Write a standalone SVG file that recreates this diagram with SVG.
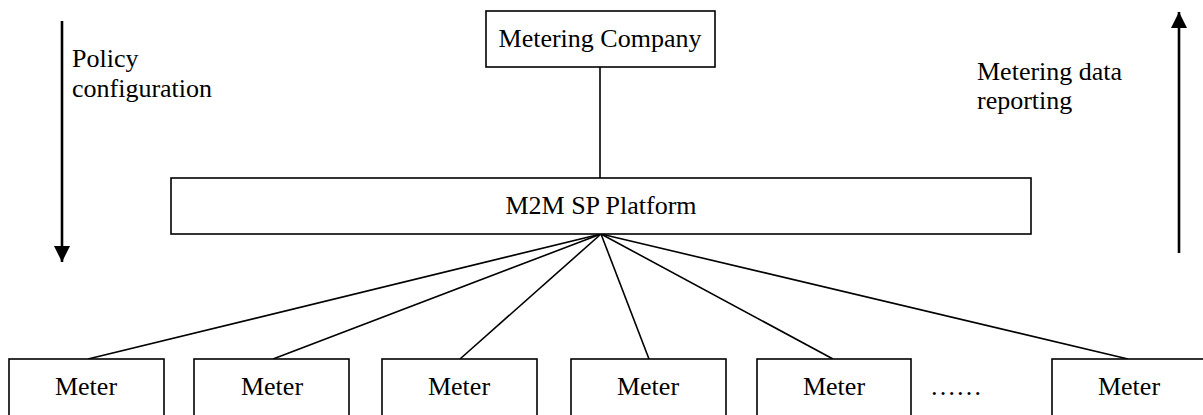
<svg xmlns="http://www.w3.org/2000/svg" width="1203" height="415" viewBox="0 0 1203 415">
<style>
  .box { fill: #fff; stroke: #000; stroke-width: 1.6; }
  .lbl { font-family: "Liberation Serif", "Times New Roman", serif; font-size: 26px; fill: #000; }
  .c { text-anchor: middle; }
  .ln { stroke: #000; stroke-width: 1.6; fill: none; }
  .arr { stroke: #000; stroke-width: 2.6; fill: none; }
</style>
<defs>
  <marker id="ah" viewBox="0 0 16 16" refX="16" refY="8" markerWidth="16" markerHeight="16" markerUnits="userSpaceOnUse" orient="auto">
    <path d="M0,0 L16,8 L0,16 Z" fill="#000"/>
  </marker>
</defs>
<rect width="1203" height="415" fill="#fff"/>
<g id="connectors">
  <line class="ln" x1="600" y1="67" x2="600" y2="178"/>
  <line class="ln" x1="601" y1="234" x2="88" y2="359"/>
  <line class="ln" x1="601" y1="234" x2="273" y2="359"/>
  <line class="ln" x1="601" y1="234" x2="460" y2="359"/>
  <line class="ln" x1="601" y1="234" x2="649" y2="359"/>
  <line class="ln" x1="601" y1="234" x2="833" y2="359"/>
  <line class="ln" x1="601" y1="234" x2="1128" y2="359"/>
</g>
<g id="arrow-policy">
  <line class="arr" x1="62" y1="21" x2="62" y2="262" marker-end="url(#ah)"/>
  <text class="lbl" x="72" y="67">Policy</text>
  <text class="lbl" x="72" y="97">configuration</text>
</g>
<g id="arrow-reporting">
  <line class="arr" x1="1179" y1="253" x2="1179" y2="12" marker-end="url(#ah)"/>
  <text class="lbl" x="977" y="80">Metering data</text>
  <text class="lbl" x="977" y="109">reporting</text>
</g>
<g id="metering-company">
  <rect class="box" x="486" y="11" width="229" height="56"/>
  <text class="lbl c" x="600" y="47">Metering Company</text>
</g>
<g id="m2m-platform">
  <rect class="box" x="171" y="178" width="860" height="56"/>
  <text class="lbl c" x="601" y="214">M2M SP Platform</text>
</g>
<g id="meter-1">
  <rect class="box" x="9" y="359" width="155" height="70"/>
  <text class="lbl c" x="86" y="395">Meter</text>
</g>
<g id="meter-2">
  <rect class="box" x="194" y="359" width="155" height="70"/>
  <text class="lbl c" x="272" y="395">Meter</text>
</g>
<g id="meter-3">
  <rect class="box" x="382" y="359" width="155" height="70"/>
  <text class="lbl c" x="459" y="395">Meter</text>
</g>
<g id="meter-4">
  <rect class="box" x="571" y="359" width="155" height="70"/>
  <text class="lbl c" x="648" y="395">Meter</text>
</g>
<g id="meter-5">
  <rect class="box" x="757" y="359" width="154" height="70"/>
  <text class="lbl c" x="834" y="395">Meter</text>
</g>
<g id="ellipsis">
  <text class="lbl" x="930" y="395">……</text>
</g>
<g id="meter-6">
  <rect class="box" x="1052" y="359" width="155" height="70"/>
  <text class="lbl c" x="1129" y="395">Meter</text>
</g>
</svg>
